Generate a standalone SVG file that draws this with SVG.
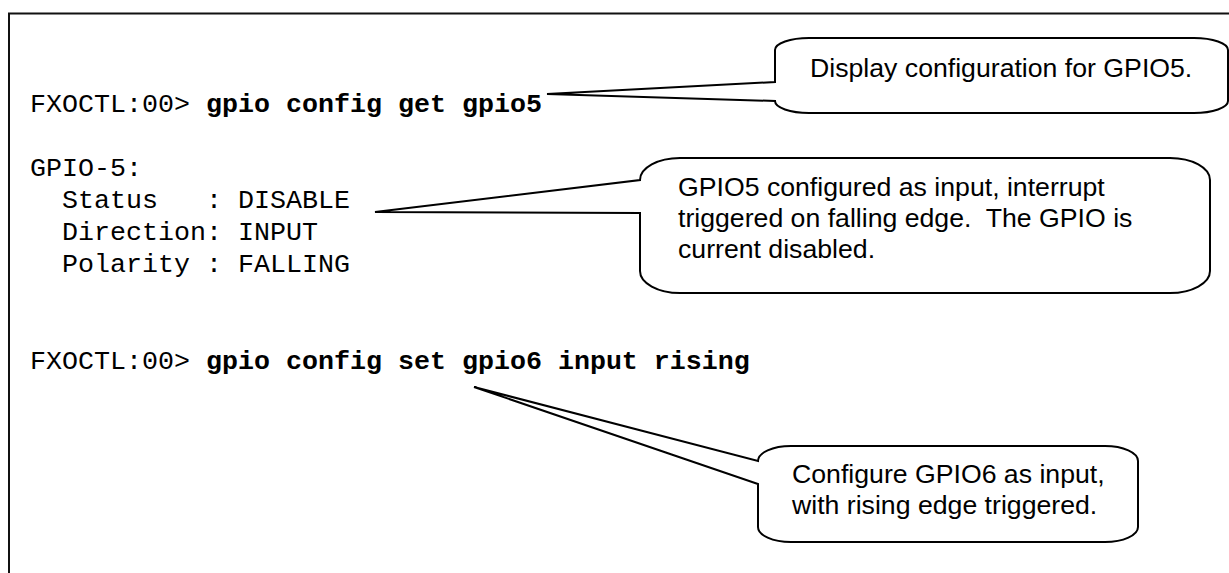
<svg xmlns="http://www.w3.org/2000/svg" width="1229" height="573" viewBox="0 0 1229 573">
  <style>
    .frame { fill: none; stroke: #111; stroke-width: 2; }
    .mono { font-family: "Liberation Mono", "Courier New", monospace; font-size: 26.67px; fill: #000; white-space: pre; }
    .cmd { font-weight: bold; }
    .callout { fill: #fff; stroke: #000; stroke-width: 2; stroke-linejoin: miter; }
    .note { font-family: "Liberation Sans", Arial, sans-serif; font-size: 26.67px; fill: #000; white-space: pre; }
  </style>
  <rect x="0" y="0" width="1229" height="573" fill="#fff"/>
  <path class="frame" d="M9,573 V13.5 H1229"/>

  <g id="console">
    <text class="mono" x="30" y="112" xml:space="preserve">FXOCTL:00&gt; <tspan class="cmd">gpio config get gpio5</tspan></text>
    <text class="mono" x="30" y="176" xml:space="preserve">GPIO-5:</text>
    <text class="mono" x="30" y="208" xml:space="preserve">  Status   : DISABLE</text>
    <text class="mono" x="30" y="240" xml:space="preserve">  Direction: INPUT</text>
    <text class="mono" x="30" y="272" xml:space="preserve">  Polarity : FALLING</text>
    <text class="mono" x="30" y="369" xml:space="preserve">FXOCTL:00&gt; <tspan class="cmd">gpio config set gpio6 input rising</tspan></text>
  </g>

  <g id="connectors"></g>

  <g id="callout-display">
    <path class="callout" d="M809,38 H1194 A34,12 0 0 1 1228,50 V101 A34,12 0 0 1 1194,113 H809 A34,12 0 0 1 775,101 L547,94 L775,82 V50 A34,12 0 0 1 809,38 Z"/>
    <text class="note" x="810" y="77">Display configuration for GPIO5.</text>
  </g>

  <g id="callout-gpio5">
    <path class="callout" d="M680,158 H1170 A40,22 0 0 1 1210,180 V271 A40,22 0 0 1 1170,293 H680 A40,22 0 0 1 640,271 V213 L375,212 L640,180 A40,22 0 0 1 680,158 Z"/>
    <text class="note" x="678" y="196">GPIO5 configured as input, interrupt</text>
    <text class="note" x="678" y="227" xml:space="preserve">triggered on falling edge.  The GPIO is</text>
    <text class="note" x="678" y="258">current disabled.</text>
  </g>

  <g id="callout-gpio6">
    <path class="callout" d="M791,446 H1105 A33,15 0 0 1 1138,461 V527 A33,15 0 0 1 1105,542 H791 A33,15 0 0 1 758,527 V484 L474,387 L758,461 A33,15 0 0 1 791,446 Z"/>
    <text class="note" x="792" y="483">Configure GPIO6 as input,</text>
    <text class="note" x="792" y="514">with rising edge triggered.</text>
  </g>
</svg>
